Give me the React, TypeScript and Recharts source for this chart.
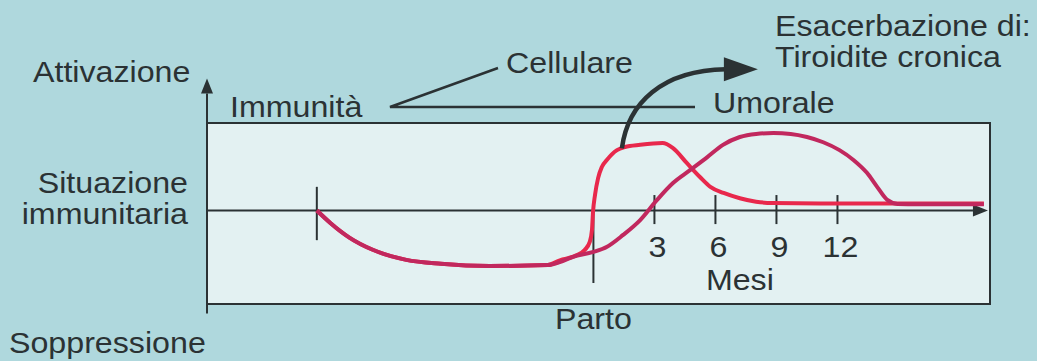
import React from 'react';
import {
  ComposedChart,
  Line,
  XAxis,
  YAxis,
  ReferenceArea,
  ReferenceLine,
  ReferenceDot,
  Customized,
} from 'recharts';

// Time axis: months relative to delivery (Parto = 0).
// Level axis: 0 = baseline immune state, positive = activation, negative = suppression.

// Shared descent during pregnancy (both responses suppressed together)
const pregnancyMonths = [-13.6, -12.95, -12.0, -10.85, -9.2, -7.5, -5.1, -2.25];
const pregnancyLevels = [0, -14, -31, -45, -56.5, -61, -63.5, -62.5];

// Cell-mediated immunity after delivery
const cellularMonths = [-1.65, -0.9, -0.42, -0.18, -0.07, -0.02, 0.08, 0.23, 0.42, 0.67, 1.16, 1.55, 2.3, 3.4, 3.9, 4.6, 5.25, 5.75, 6.4, 7.2, 8.0, 8.8, 12, 16, 19.2];
const cellularLevels = [-57, -52, -45, -36, -22, -2, 18, 37, 50, 58, 69, 72.5, 75, 77, 71.5, 54, 38, 27, 20, 14, 10, 8.5, 8, 8, 8];

// Humoral immunity after delivery
const humoralMonths = [-1.65, -1.0, 0, 0.67, 1.46, 2.3, 3.13, 3.9, 4.75, 5.6, 6.37, 7.2, 8.0, 8.85, 9.7, 10.5, 11.3, 12.1, 12.8, 13.45, 13.95, 14.45, 14.95, 16, 19.2];
const humoralLevels = [-59, -53, -47.5, -41.5, -28, -11, 12, 31, 46, 61, 75, 84, 87.5, 88.5, 87.5, 84, 78, 69, 57.5, 43, 27, 12, 7.5, 7, 7];

const monthTicks = [3, 6, 9, 12];
const monthDomain: [number, number] = [-19, 19.5];
const levelDomain: [number, number] = [-107, 100];

const pregnancyStart = pregnancyMonths[0];
const deliveryMonth = 0;

const toRows = (ms: number[], vs: number[]) => ms.map((m, i) => ({ m, v: vs[i] }));
const cellularData = toRows([...pregnancyMonths, ...cellularMonths], [...pregnancyLevels, ...cellularLevels]);
const humoralData = toRows([...pregnancyMonths, ...humoralMonths], [...pregnancyLevels, ...humoralLevels]);

const W = 1037;
const H = 361;
const FONT = '"Liberation Sans", Arial, Helvetica, sans-serif';
const INK = '#2b3234';
const OUTER_BG = '#afd8dd';
const INNER_BG = '#e3f1f2';
const RED = '#e8284c';
const PURPLE = '#c1285e';

function Caption({ x, y, anchor = 'start', children }: { x: number; y: number; anchor?: 'start' | 'middle' | 'end'; children: React.ReactNode }) {
  return (
    <text
      transform={`translate(${x} ${y}) scale(1.11 1)`}
      textAnchor={anchor}
      fontFamily={FONT}
      fontSize={29}
      fill={INK}
    >
      {children}
    </text>
  );
}

// line ending in a filled arrow head at (x2, y2)
const ArrowLine = (props: any) => {
  const { x1, y1, x2, y2 } = props;
  const dx = x2 - x1;
  const dy = y2 - y1;
  const len = Math.hypot(dx, dy) || 1;
  const ux = dx / len;
  const uy = dy / len;
  const headLen = 15;
  const half = 6;
  const bx = x2 - ux * headLen;
  const by = y2 - uy * headLen;
  const px = -uy;
  const py = ux;
  return (
    <g>
      <line x1={x1} y1={y1} x2={bx} y2={by} stroke={INK} strokeWidth={2} />
      <polygon points={`${x2},${y2} ${bx + px * half},${by + py * half} ${bx - px * half},${by - py * half}`} fill={INK} />
    </g>
  );
};

const PlainTick = (props: any) => {
  const { x1, y1, x2, y2 } = props;
  return <line x1={x1} y1={y1} x2={x2} y2={y2} stroke={INK} strokeWidth={2} />;
};

const makeLabelledTick = (text: string, gap: number, shift: number) => (props: any) => {
  const { x1, y1, x2, y2 } = props;
  return (
    <g>
      <line x1={x1} y1={y1} x2={x2} y2={y2} stroke={INK} strokeWidth={2} />
      <Caption x={x1 + shift} y={Math.max(y1, y2) + gap} anchor="middle">{text}</Caption>
    </g>
  );
};

// axis title placed at a point of the time scale
const makeAxisTitle = (text: string) => (props: any) => {
  const { cx, cy } = props;
  return <Caption x={cx} y={cy} anchor="middle">{text}</Caption>;
};

// curved pointer from the cellular peak to the thyroiditis note
const FlareArrow = (props: any) => {
  const { cx, cy } = props;
  const ex = cx + 104;
  const ey = cy - 79;
  return (
    <g>
      <path
        d={`M${cx},${cy} C${cx + 6},${cy - 45} ${cx + 40},${cy - 78} ${ex},${ey}`}
        fill="none"
        stroke={INK}
        strokeWidth={4.5}
      />
      <polygon points={`${ex + 32},${ey} ${ex - 2},${ey - 12} ${ex - 2},${ey + 12}`} fill={INK} />
    </g>
  );
};

const Annotations = () => (
  <g>
    <Caption x={33} y={82}>Attivazione</Caption>
    <Caption x={188} y={193} anchor="end">Situazione</Caption>
    <Caption x={188} y={224} anchor="end">immunitaria</Caption>
    <Caption x={9} y={353}>Soppressione</Caption>
    <Caption x={230} y={117}>Immunità</Caption>
    <Caption x={506} y={73}>Cellulare</Caption>
    <Caption x={713} y={113}>Umorale</Caption>
    <Caption x={775} y={36}>Esacerbazione di:</Caption>
    <Caption x={775} y={67}>Tiroidite cronica</Caption>
    <polyline points="498,68 390,107 695,107" fill="none" stroke={INK} strokeWidth={2.5} />
  </g>
);

export default function App() {
  return (
    <div style={{ position: 'fixed', left: 0, top: 0, width: W, height: H, background: OUTER_BG }}>
      <ComposedChart width={W} height={H} margin={{ top: 123, right: 47, bottom: 57, left: 207 }}>
        <XAxis dataKey="m" type="number" domain={monthDomain} allowDataOverflow hide />
        <YAxis dataKey="v" type="number" domain={levelDomain} allowDataOverflow hide />
        <ReferenceArea
          x1={monthDomain[0]}
          x2={monthDomain[1]}
          y1={levelDomain[0]}
          y2={levelDomain[1]}
          fill={INNER_BG}
          fillOpacity={1}
          stroke={INK}
          strokeWidth={2}
          ifOverflow="visible"
        />
        {/* vertical level axis */}
        <ReferenceLine
          segment={[{ x: monthDomain[0], y: -118 }, { x: monthDomain[0], y: 151 }]}
          ifOverflow="visible"
          shape={ArrowLine}
        />
        {/* baseline / time axis */}
        <ReferenceLine
          segment={[{ x: monthDomain[0], y: 0 }, { x: 19.4, y: 0 }]}
          ifOverflow="visible"
          shape={ArrowLine}
        />
        <ReferenceLine
          segment={[{ x: pregnancyStart, y: 27 }, { x: pregnancyStart, y: -34 }]}
          ifOverflow="visible"
          shape={PlainTick}
        />
        <ReferenceLine
          segment={[{ x: deliveryMonth, y: 5 }, { x: deliveryMonth, y: -83 }]}
          ifOverflow="visible"
          shape={makeLabelledTick('Parto', 46, 0)}
        />
        {monthTicks.map((t) => (
          <ReferenceLine
            key={t}
            segment={[{ x: t, y: 17.6 }, { x: t, y: -15.6 }]}
            ifOverflow="visible"
            shape={makeLabelledTick(String(t), 33, 3)}
          />
        ))}
        <Line
          data={cellularData}
          dataKey="v"
          type="monotone"
          stroke={RED}
          strokeWidth={4}
          dot={false}
          activeDot={false}
          isAnimationActive={false}
        />
        <Line
          data={humoralData}
          dataKey="v"
          type="monotone"
          stroke={PURPLE}
          strokeWidth={4}
          dot={false}
          activeDot={false}
          isAnimationActive={false}
        />
        <ReferenceDot x={7.2} y={-91} ifOverflow="visible" shape={makeAxisTitle('Mesi')} />
        <ReferenceDot x={1.4} y={71} ifOverflow="visible" shape={FlareArrow} />
        <Customized component={<Annotations />} />
      </ComposedChart>
    </div>
  );
}
